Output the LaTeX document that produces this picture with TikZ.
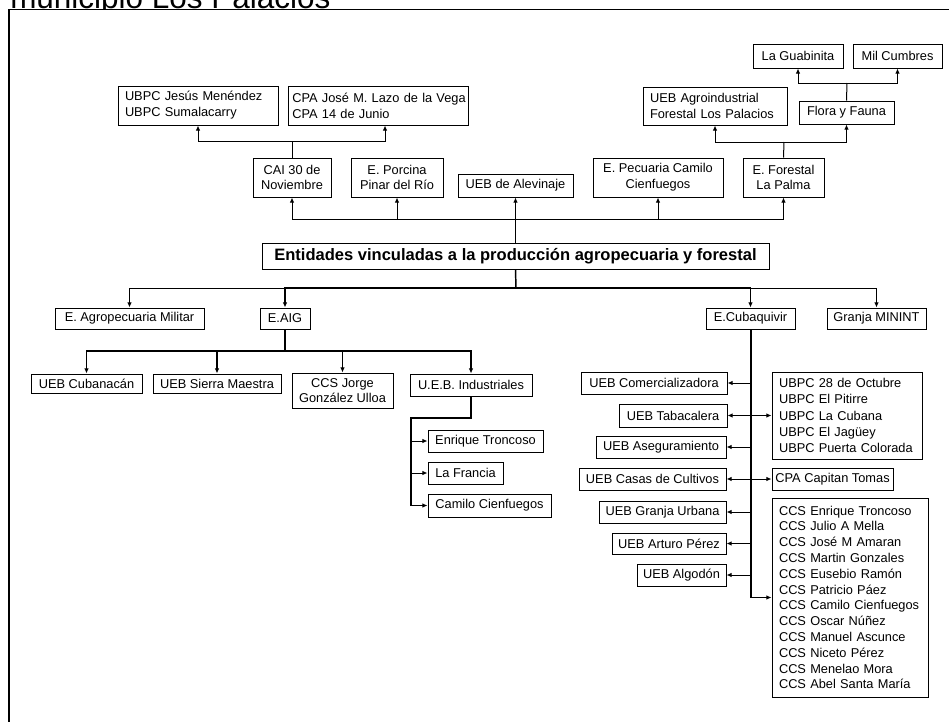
\documentclass[tikz,border=0pt]{standalone}
\usepackage{fontspec}
\setmainfont{Liberation Sans}
\usetikzlibrary{arrows.meta}
\tikzset{
  box/.style={draw=black, line width=0.75pt, fill=white, inner sep=0pt, align=center,
    font=\fontsize{9.6}{11.85}\selectfont},
  lft/.style={align=left, text width=\bxt pt},
  arr/.style={-{Latex[length=3.8pt,width=3.4pt]}},
  dbl/.style={{Latex[length=3.8pt,width=3.4pt]}-{Latex[length=3.8pt,width=3.4pt]}},
  ln/.style={line width=0.75pt},
  trunk/.style={line width=1.1pt},
  trunkB/.style={line width=1.5pt},
}
\newcommand\mybox[7][]{%
  \pgfmathsetmacro\bxw{(#5-#3)*0.75}%
  \pgfmathsetmacro\bxh{(#6-#4)*0.75}%
  \pgfmathsetmacro\bxt{(#5-#3)*0.75-10.5}%
  \node[box,minimum width=\bxw pt,minimum height=\bxh pt,#1] (#2) at ({(#3+#5)/2},{(#4+#6)/2}) {#7};}
\begin{document}
\begin{tikzpicture}[x=0.75pt,y=-0.75pt]
\useasboundingbox (0,0) rectangle (949,721);
\clip (0,0) rectangle (949,721);
\fill[white] (0,0) rectangle (949,721);
% title (cut by the top edge) and frame
\begin{scope}
\clip (0,-30) rectangle (949,9.5);
\node[anchor=base west, inner sep=0pt, font=\fontsize{23.6}{28}\selectfont] (title) at (10,8) {municipio Los Palacios};
\end{scope}
\draw[line width=1pt] (9,740) -- (9,9.5) -- (960,9.5);

% top part
\mybox[lft]{ubpcA}{118}{86}{278}{125}{\mbox{UBPC Jesús Menéndez}\\\mbox{UBPC Sumalacarry}}
\mybox[lft,text width=\bxt pt+4pt]{cpaA}{288}{86}{468}{125}{\mbox{CPA José M. Lazo de la Vega}\\\mbox{CPA 14 de Junio}}
\mybox{cai}{253}{158}{331}{197}{CAI 30 de\\Noviembre}
\mybox{porc}{351}{158}{443}{197}{E. Porcina\\Pinar del Río}
\mybox{alev}{458}{174}{573}{197}{UEB de Alevinaje}
\mybox{pec}{593}{158}{723}{197}{E. Pecuaria Camilo\\Cienfuegos}
\mybox{forl}{743}{158}{824}{197}{E. Forestal\\La Palma}
\mybox[lft]{agro}{643}{87}{787}{125}{\mbox{UEB Agroindustrial}\\\mbox{Forestal Los Palacios}}
\mybox{flora}{799}{101}{894}{124}{Flora y Fauna}
\mybox{guab}{753}{44}{843}{68}{La Guabinita}
\mybox{milc}{853}{44}{942}{68}{Mil Cumbres}
\mybox[font=\fontsize{12.4}{14}\selectfont\bfseries]{main}{262}{243}{769}{269}{Entidades vinculadas a la producción agropecuaria y forestal}

% level 2
\mybox{mil}{55}{308}{204}{329}{E. Agropecuaria Militar}
\mybox{aig}{260}{308}{310}{329}{E.AIG}
\mybox{cub}{706}{308}{795}{329}{E.Cubaquivir}
\mybox{gmin}{827}{308}{926}{329}{Granja MININT}

% E.AIG children
\mybox{cubn}{31}{374}{142}{393}{UEB Cubanacán}
\mybox{sierra}{153}{374}{281}{393}{UEB Sierra Maestra}
\mybox{ccsj}{292}{373}{393}{408}{CCS Jorge\\González Ulloa}
\mybox{ind}{410}{374}{532}{396}{U.E.B. Industriales}
\mybox{enr}{428}{430}{543}{452}{Enrique Troncoso}
\mybox{lafr}{428}{462}{503}{484}{La Francia}
\mybox{cam}{428}{494}{551}{517}{Camilo Cienfuegos}

% E.Cubaquivir children
\mybox{comer}{581}{372}{727}{394}{UEB Comercializadora}
\mybox{tab}{619}{404}{727}{427}{UEB Tabacalera}
\mybox{aseg}{596}{436}{726}{458}{UEB Aseguramiento}
\mybox{casas}{579}{468}{726}{490}{UEB Casas de Cultivos}
\mybox{granja}{599}{501}{726}{523}{UEB Granja Urbana}
\mybox{arturo}{612}{533}{726}{554}{UEB Arturo Pérez}
\mybox{algo}{637}{564}{726}{586}{UEB Algodón}
\mybox[lft,font=\fontsize{9.6}{12.2}\selectfont]{ubpcB}{772}{372}{922}{459}{\mbox{UBPC 28 de Octubre}\\\mbox{UBPC El Pitirre}\\\mbox{UBPC La Cubana}\\\mbox{UBPC El Jagüey}\\\mbox{UBPC Puerta Colorada}}
\mybox{cpaB}{772}{468}{893}{490}{CPA Capitan Tomas}
\mybox[lft]{ccsB}{772}{498}{928}{697}{\mbox{CCS Enrique Troncoso}\\\mbox{CCS Julio A Mella}\\\mbox{CCS José M Amaran}\\\mbox{CCS Martin Gonzales}\\\mbox{CCS Eusebio Ramón}\\\mbox{CCS Patricio Páez}\\\mbox{CCS Camilo Cienfuegos}\\\mbox{CCS Oscar Núñez}\\\mbox{CCS Manuel Ascunce}\\\mbox{CCS Niceto Pérez}\\\mbox{CCS Menelao Mora}\\\mbox{CCS Abel Santa María}}

% connectors: top-left
\coordinate (j1) at (292,141);
\draw[ln] (cai.north) -- (j1);
\draw[ln,arr] (j1) -| (ubpcA.south);
\draw[ln,arr] (j1) -| ([xshift=5.25pt]cpaA.south);
% main up
\coordinate (j2) at (516,219);
\draw[ln,arr] (main.north) -- (alev.south);
\draw[ln,arr] (j2) -| (cai.south);
\draw[ln,arr] (j2) -| (porc.south);
\draw[ln,arr] (j2) -| (pec.south);
\draw[ln,arr] (j2) -| (forl.south);
% forestal
\coordinate (j3) at (784,142);
\draw[ln] (forl.north) -- (j3);
\draw[ln,arr] (j3) -| (agro.south);
\draw[ln,arr] (j3) -| (flora.south);
\coordinate (j4) at (847,83);
\draw[ln] (flora.north) -- (j4);
\draw[ln,arr] (j4) -| (guab.south);
\draw[ln,arr] (j4) -| (milc.south);
% main down
\coordinate (j5) at (516,288);
\draw[trunk] (main.south) -- (j5);
\draw[ln,arr] (j5) -| (mil.north);
\draw[trunk,arr] (j5) -| (aig.north);
\draw[trunk,arr] (j5) -| (cub.north);
\draw[ln,arr] (j5) -| (gmin.north);
% E.AIG
\coordinate (j6) at (285,351);
\draw[trunk] (aig.south) -- (j6);
\draw[trunk,arr] (j6) -| (cubn.north);
\draw[trunk,arr] (j6) -| (sierra.north);
\draw[trunk,arr] (j6) -| (ccsj.north);
\draw[trunk,arr] (j6) -| (ind.north);
% Industriales
\coordinate (j7) at (411,418);
\draw[trunk] (ind.south) |- (j7) -- (j7 |- cam.west);
\draw[ln,arr] (j7 |- enr.west) -- (enr.west);
\draw[ln,arr] (j7 |- lafr.west) -- (lafr.west);
\draw[ln,arr] (j7 |- cam.west) -- (cam.west);
% E.Cubaquivir
\coordinate (j8) at (cub.south |- ccsB.west);
\draw[trunkB] (cub.south) -- (j8);
\draw[ln,arr] (j8) -- (ccsB.west);
\draw[ln,arr] (cub.south |- comer.east) -- (comer.east);
\draw[ln,arr] (cub.south |- aseg.east) -- (aseg.east);
\draw[ln,arr] (cub.south |- granja.east) -- (granja.east);
\draw[ln,arr] (cub.south |- arturo.east) -- (arturo.east);
\draw[ln,arr] (cub.south |- algo.east) -- (algo.east);
\draw[ln,dbl] (tab.east) -- (ubpcB.west);
\draw[ln,dbl] (casas.east) -- (cpaB.west);
\end{tikzpicture}
\end{document}
